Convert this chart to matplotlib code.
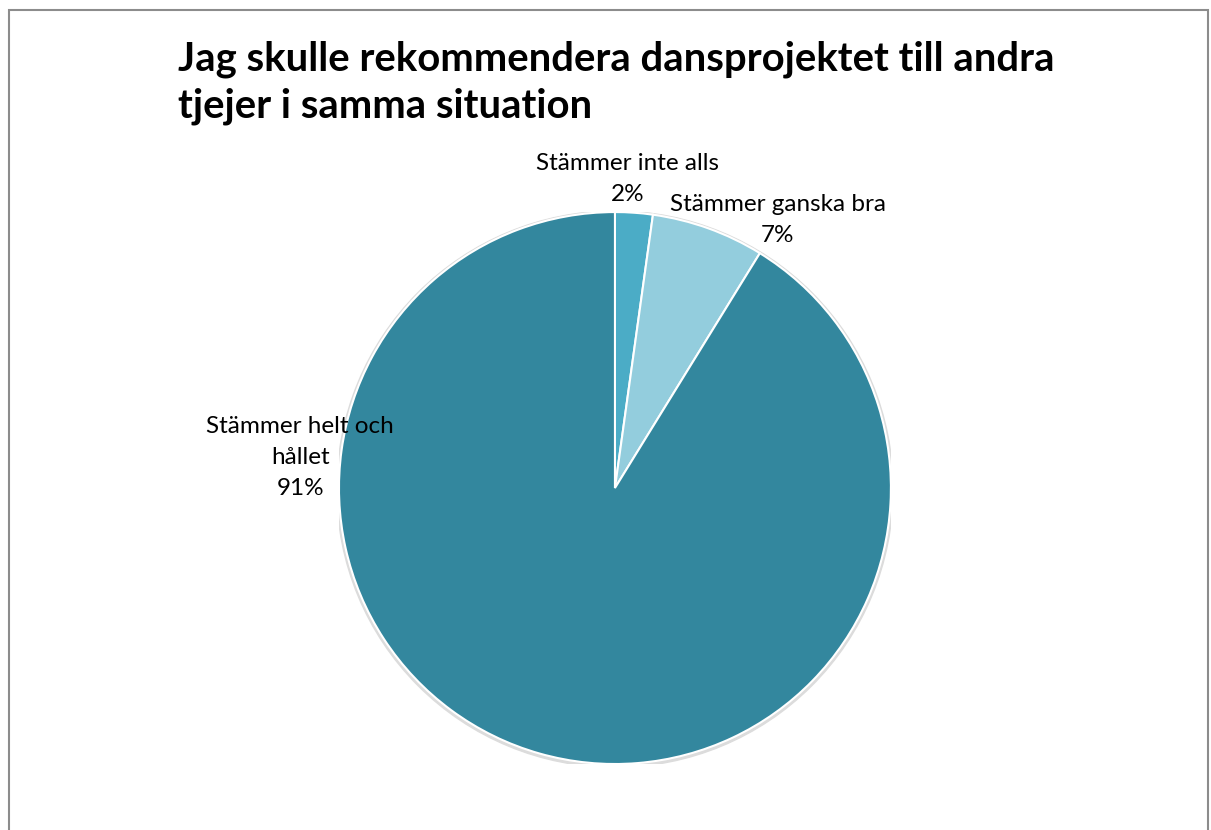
"""Pie chart: recommendation of the dance project."""

import matplotlib
matplotlib.use("Agg")
import matplotlib.pyplot as plt
from matplotlib.patches import Rectangle

categories = ["Stämmer inte alls", "Stämmer ganska bra", "Stämmer helt och\nhållet"]
shares = [2.2, 6.6, 91.2]
colors = ["#4BACC6", "#93CDDD", "#33879E"]
title = "Jag skulle rekommendera dansprojektet till andra\ntjejer i samma situation"

# label centres in pie data units (radius = 1)
label_pos = [(0.047, 1.12), (0.59, 0.97), (-1.14, 0.11)]

plt.rcParams["font.family"] = ["Lato", "DejaVu Sans"]

fig = plt.figure(figsize=(12.11, 8.3), dpi=100)
fig.patches.append(Rectangle((9 / 1211, -0.1), 1199 / 1211, 1.1 - 10 / 830,
                             transform=fig.transFigure, fill=False,
                             edgecolor="#8c8c8c", linewidth=1.5))

fig.text(178 / 1211, 1 - 41 / 830, title, ha="left", va="top",
         fontsize=28.8, fontweight="bold", linespacing=1.3)

ax = fig.add_axes([0.2799, 0.0795, 0.4558, 0.665])
shadow = plt.Circle((0.0, -0.004), 1.008, color="#dcdcdc", zorder=0)
ax.add_patch(shadow)
wedges, _ = ax.pie(shares, colors=colors, startangle=90, counterclock=False,
                   radius=1.0, wedgeprops=dict(edgecolor="white", linewidth=1.5))
for name, val, (x, y) in zip(categories, shares, label_pos):
    ax.text(x, y, f"{name}\n{round(val):d}%", ha="center", va="center",
            fontsize=17.5, linespacing=1.6)
ax.set_xlim(-1, 1)
ax.set_ylim(-1, 1)
ax.set_aspect("equal")
ax.axis("off")

fig.savefig("out.png", dpi=100)
